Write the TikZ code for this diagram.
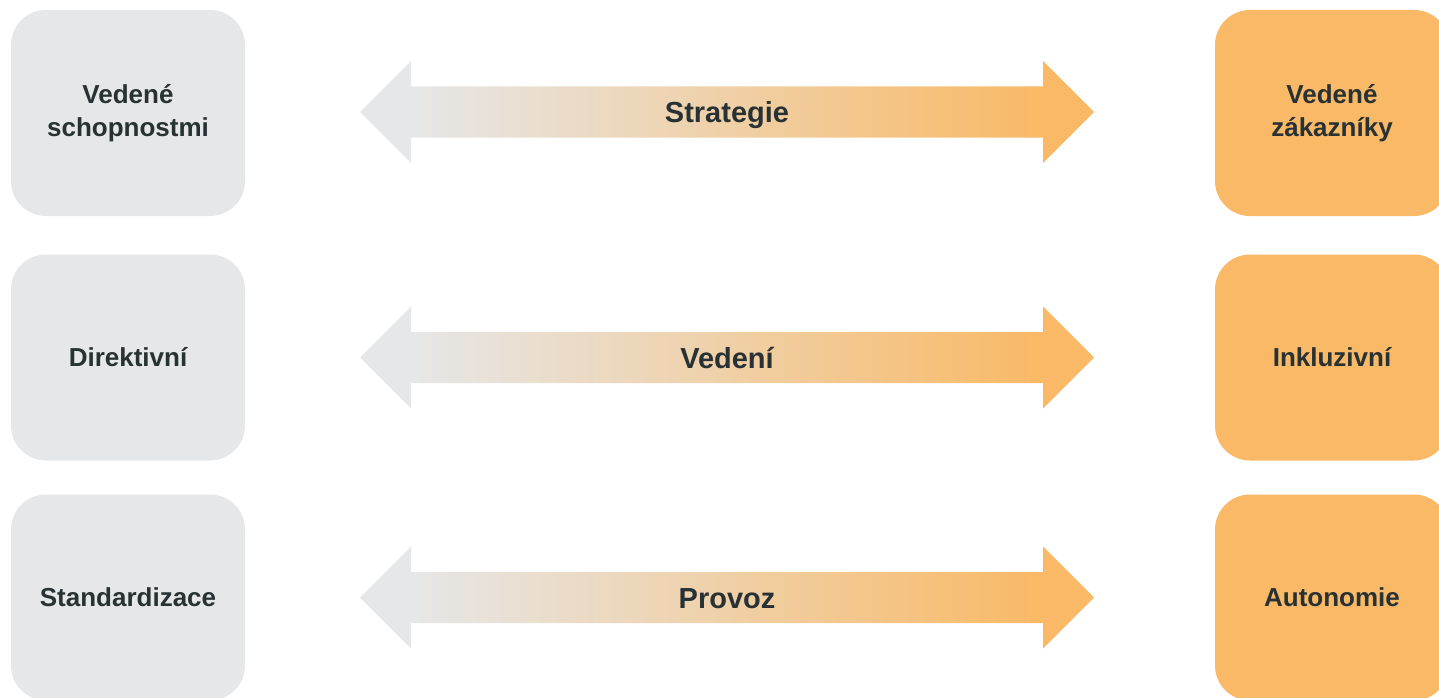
\documentclass[tikz,border=0pt]{standalone}
\usepackage{fontspec}
\setmainfont{Liberation Sans}
\usepackage{xcolor}
\usetikzlibrary{positioning}
\definecolor{boxgrey}{HTML}{E6E7E8}
\definecolor{boxorange}{HTML}{F9B966}
\definecolor{labeltext}{HTML}{283134}
\pgfdeclarehorizontalshading{greytoorange}{100bp}{color(0bp)=(boxgrey); color(28.5bp)=(boxgrey); color(71.5bp)=(boxorange); color(100bp)=(boxorange)}

\begin{document}
\begin{tikzpicture}[x=1pt,y=-1pt,
  sidebox/.style={minimum width=234pt, minimum height=206pt, rounded corners=35pt,
    inner sep=0pt, align=center, text=labeltext,
    font=\fontsize{26}{33}\selectfont\bfseries},
  greybox/.style={sidebox, fill=boxgrey},
  orangebox/.style={sidebox, fill=boxorange},
  arrowlabel/.style={anchor=base, text=labeltext, font=\fontsize{29}{34}\selectfont\bfseries},
  fadearrow/.style={shading=greytoorange}]
\useasboundingbox (0,0) rectangle (1439,698);
\clip (0,0) rectangle (1439,698);
% left side
\node[greybox] (capab) at (128,113) {Vedené\\schopnostmi};
\node[greybox] (direct) at (128,357.5) {Direktivní};
\node[greybox] (standard) at (128,597.5) {Standardizace};
% right side
\node[orangebox] (custom) at (1332,113) {Vedené\\zákazníky};
\node[orangebox] (inclus) at (1332,357.5) {Inkluzivní};
\node[orangebox] (autonom) at (1332,597.5) {Autonomie};
% arrows
\shade[fadearrow, shift={(0,112)}] (360,0) -- (411,-51) -- (411,-25.5) -- (1043,-25.5) -- (1043,-51)
  -- (1094,0) -- (1043,51) -- (1043,25.5) -- (411,25.5) -- (411,51) -- cycle;
\shade[fadearrow, shift={(0,357.5)}] (360,0) -- (411,-51) -- (411,-25.5) -- (1043,-25.5) -- (1043,-51)
  -- (1094,0) -- (1043,51) -- (1043,25.5) -- (411,25.5) -- (411,51) -- cycle;
\shade[fadearrow, shift={(0,597.5)}] (360,0) -- (411,-51) -- (411,-25.5) -- (1043,-25.5) -- (1043,-51)
  -- (1094,0) -- (1043,51) -- (1043,25.5) -- (411,25.5) -- (411,51) -- cycle;
\node[arrowlabel] (strategy) at (727,122.5) {Strategie};
\node[arrowlabel] (leading) at (727,368) {Vedení};
\node[arrowlabel] (operation) at (727,608) {Provoz};
\end{tikzpicture}
\end{document}
